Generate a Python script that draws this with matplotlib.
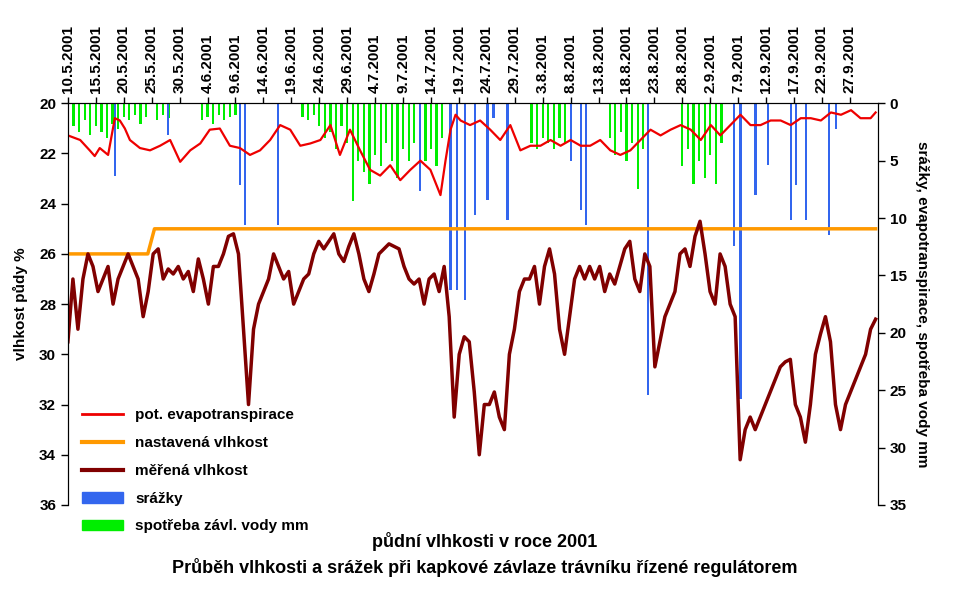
import numpy as np
import matplotlib
matplotlib.use("Agg")
import matplotlib.pyplot as plt
from matplotlib.lines import Line2D
from matplotlib.patches import Patch

plt.rcParams["font.family"] = "Liberation Sans"
plt.rcParams["font.weight"] = "bold"

date_labels = ["10.5.2001","15.5.2001","20.5.2001","25.5.2001","30.5.2001","4.6.2001","9.6.2001",
               "14.6.2001","19.6.2001","24.6.2001","29.6.2001","4.7.2001","9.7.2001","14.7.2001",
               "19.7.2001","24.7.2001","29.7.2001","3.8.2001","8.8.2001","13.8.2001","18.8.2001",
               "23.8.2001","28.8.2001","2.9.2001","7.9.2001","12.9.2001","17.9.2001","22.9.2001","27.9.2001"]
tick_days = [5 * i for i in range(len(date_labels))]

moisture = [29.5,27,29,27,26,26.5,27.5,27,26.5,28,27,26.5,26,26.5,27,28.5,27.5,26,25.8,27,26.6,26.8,26.5,27,
            26.7,27.5,26.2,27,28,26.5,26.5,26,25.3,25.2,26,29,32,29,28,27.5,27,26,26.5,27,26.7,28,27.5,27,
            26.8,26,25.5,25.8,25.5,25.2,26,26.3,25.7,25.2,26,27,27.5,26.8,26,25.8,25.6,25.7,25.8,26.5,27,
            27.2,27,28,27,26.8,27.5,26.5,28.5,32.5,30,29.3,29.5,31.5,34,32,32,31.5,32.5,33,30,29,27.5,27,
            27,26.5,28,26.5,25.8,26.8,29,30,28.5,27,26.5,27,26.5,27,26.5,27.5,26.8,27.2,26.5,25.8,25.5,27,
            27.5,26,26.5,30.5,29.5,28.5,28,27.5,26,25.8,26.5,25.3,24.7,26,27.5,28,26,26.5,28,28.5,34.2,33,
            32.5,33,32.5,32,31.5,31,30.5,30.3,30.2,32,32.5,33.5,32,30,29.2,28.5,29.5,32,33,32,31.5,31,30.5,
            30,29,28.6]
moisture_days = np.linspace(0, 144.6, len(moisture))

setpoint_days = [0, 14.3, 15.5, 144.6]
setpoint = [26, 26, 25, 25]

et_days = [0,2.2,3.9,4.8,5.7,7.2,8.4,9.3,10.2,11.1,
           12.9,14.7,16.5,18.3,20.1,21.9,23.7,25.4,27.2,29.0,30.8,32.6,34.4,36.2,38.0,39.8,41.6,43.4,45.2,
           47.0,48.7,50.5,52.3,54.1,55.9,57.7,59.5,61.3,63.1,64.9,66.7,
           67.6,68.5,69.4,70.3,
           72.0,73.8,75.6,77.4,79.2,81.0,82.8,84.6,86.4,88.2,90.0,91.8,93.5,95.3,97.1,98.9,100.7,102.5,
           104.3,106.1,107.9,109.7,111.5,113.3,115.1,116.8,118.6,120.4,122.2,124.0,125.8,127.6,129.4,
           131.2,133.0,134.8,136.6,138.4,140.2,141.9,143.7,144.6]
et = [2.8,3.2,4.1,4.6,3.9,4.5,1.3,1.5,2.2,3.2,
      3.9,4.1,3.7,3.2,5.1,4.1,3.5,2.3,2.2,3.7,3.9,4.5,4.1,3.2,1.9,2.3,3.7,3.5,3.2,1.9,4.5,2.3,4.1,5.8,
      6.3,5.4,6.7,5.8,5.0,5.8,8.0,
      5.0,2.3,1.0,1.5,
      1.9,1.5,2.3,3.2,1.9,4.1,3.7,3.7,3.2,3.7,3.2,3.7,3.7,3.2,4.1,4.5,4.1,3.2,2.3,2.8,2.3,1.9,2.3,3.2,
      1.9,2.8,1.9,1.0,1.9,1.9,1.5,1.5,1.9,1.3,1.3,1.5,0.8,1.0,0.6,1.3,1.3,0.8]
n = min(len(et_days), len(et))
et_days, et = et_days[:n], et[:n]

rain_days = [8.4,17.9,30.8,31.7,37.6,63.1,68.5,69.7,71.1,72.9,75.1,76.2,78.7,90.0,91.8,92.7,103.9,
             119.2,120.4,123.1,125.3,129.4,130.3,132.1,136.2,137.5]
rain = [6.3,2.8,7.1,10.6,10.6,7.6,16.3,16.3,17.1,9.7,8.4,1.3,10.2,5.0,9.3,10.6,25.4,
        12.4,25.8,8.0,5.4,10.2,7.1,10.2,11.5,2.2]

irr_days = [1,2,3,4,5,6,7,8,9,10,11,12,13,14,16,17,18,24,25,26,27,28,29,30,42,43,44,45,46,47,48,49,50,
            51,52,53,54,55,56,57,58,59,60,61,62,63,64,65,66,67,83,84,85,86,87,88,89,90,
            97,98,99,100,101,102,103,110,111,112,113,114,115,116,117]
irr = [2.0,2.5,1.5,2.8,2.0,2.5,3.0,1.8,2.2,1.2,1.5,1.0,1.8,1.2,1.5,1.0,1.3,1.5,1.2,1.8,1.0,1.5,1.2,1.0,
       1.2,1.5,1.0,2.0,3.0,2.5,4.0,2.0,3.5,8.5,5.0,6.0,7.0,4.5,5.5,3.5,5.0,6.5,4.0,5.0,3.5,6.0,5.0,4.0,
       5.5,3.0,3.5,4.0,3.0,3.5,4.0,3.0,3.5,3.8,3.0,4.5,2.5,5.0,3.5,7.5,4.0,5.5,4.0,7.0,5.0,6.5,4.5,7.0,3.5]

fig = plt.figure(figsize=(9.7, 6.04), dpi=100)
ax = fig.add_axes([0.070, 0.164, 0.835, 0.665])
ax2 = ax.twinx()

ax2.bar(irr_days, irr, width=0.4, color="#00ee00", zorder=1)
ax2.bar(rain_days, rain, width=0.4, color="#3366ee", zorder=2)
ax2.plot(et_days, et, color="#ee0000", lw=1.6, zorder=3)
ax2.set_ylim(35, 0)
ax2.set_yticks(range(0, 36, 5))
ax2.set_ylabel("srážky, evapotranspirace, spotřeba vody mm", rotation=270, labelpad=16, fontsize=11, fontweight="bold")

ax.set_zorder(ax2.get_zorder() + 1)
ax.patch.set_visible(False)
ax.plot(setpoint_days, setpoint, color="#ff9900", lw=2.5)
ax.plot(moisture_days, moisture, color="#800000", lw=2.5)
ax.set_ylim(36, 20)
ax.set_yticks(range(20, 37, 2))
ax.set_ylabel("vlhkost půdy %", fontsize=11, fontweight="bold", labelpad=8)
ax.set_xlim(0, 145)
ax.xaxis.tick_top()
ax.set_xticks(tick_days)
ax.set_xticklabels(date_labels, rotation=90, fontsize=10, fontweight="bold")
for a in (ax, ax2):
    a.spines["bottom"].set_visible(False)
    a.tick_params(labelsize=11, width=1, length=5)
ax.tick_params(axis="x", length=4)

handles = [Line2D([], [], color="#ee0000", lw=2),
           Line2D([], [], color="#ff9900", lw=3),
           Line2D([], [], color="#800000", lw=3),
           Patch(color="#3366ee"), Patch(color="#00ee00")]
labels = ["pot. evapotranspirace", "nastavená vlhkost", "měřená vlhkost", "srážky", "spotřeba závl. vody mm"]
ax.legend(handles, labels, loc="lower left", frameon=False, fontsize=11, handlelength=2.7,
          labelspacing=0.9, bbox_to_anchor=(0.0, -0.105))

fig.text(0.50, 0.095, "půdní vlhkosti v roce 2001", ha="center", fontsize=13, fontweight="bold")
fig.text(0.50, 0.052, "Průběh vlhkosti a srážek při kapkové závlaze trávníku řízené regulátorem",
         ha="center", fontsize=13, fontweight="bold")

fig.savefig("out.png", dpi=100)
